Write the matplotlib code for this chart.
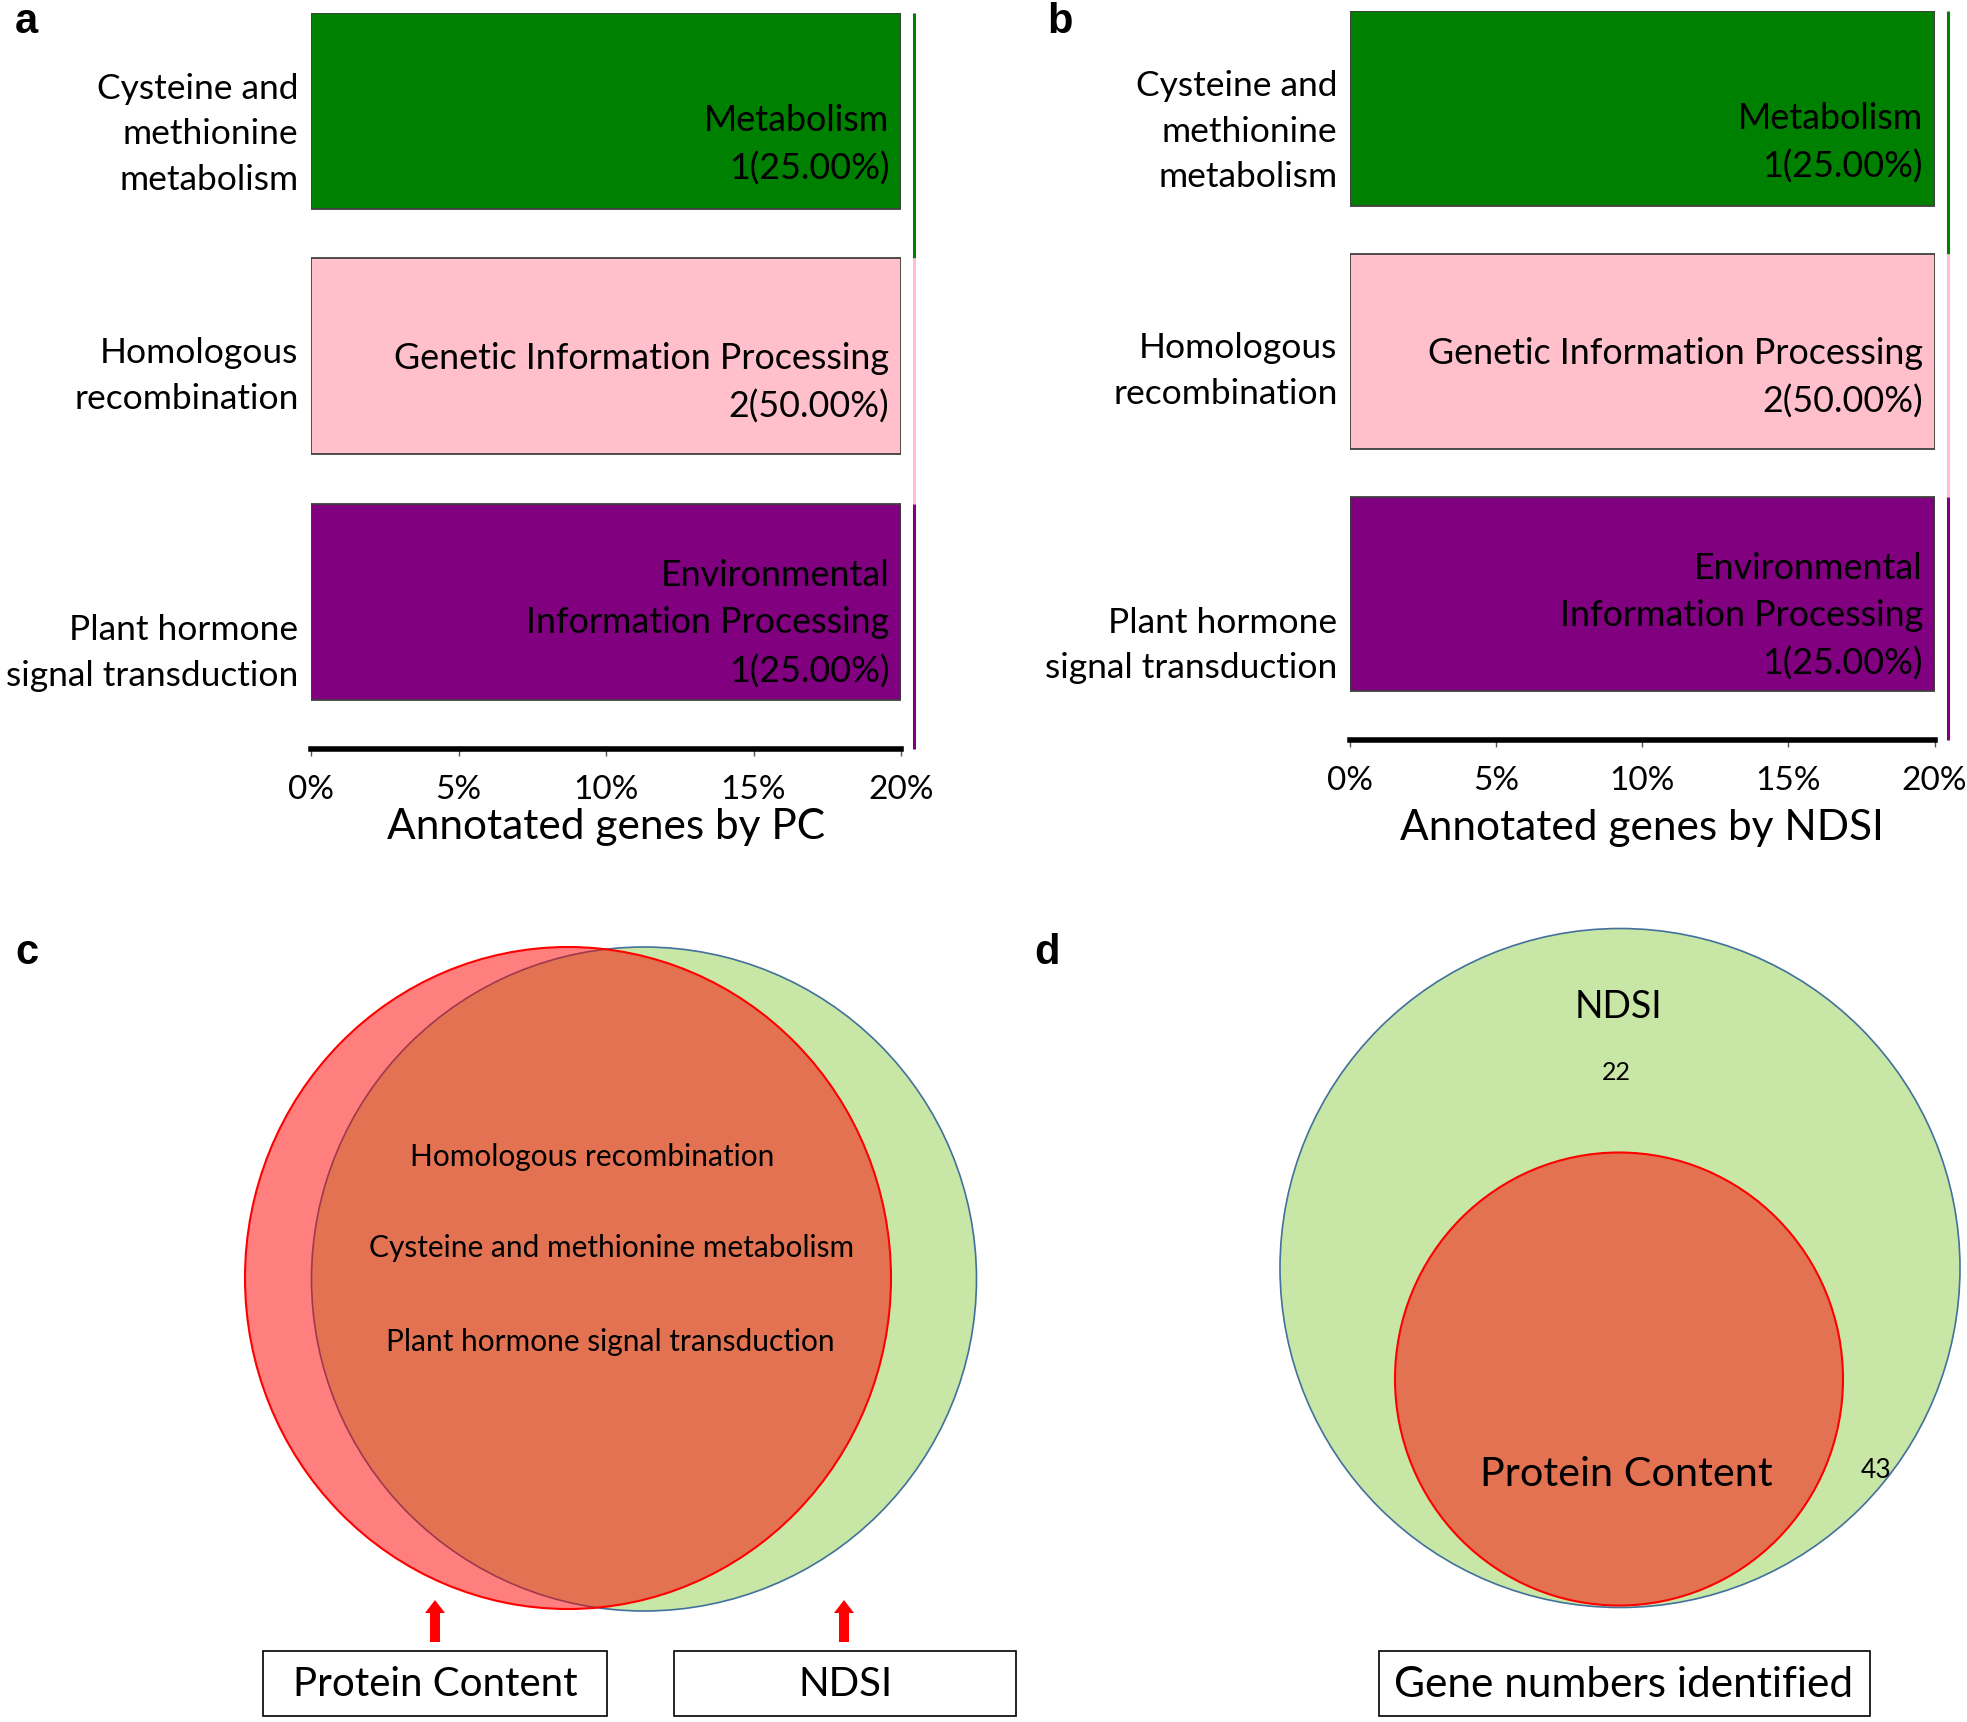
import numpy as np
import matplotlib
matplotlib.use("Agg")
import matplotlib.pyplot as plt
from matplotlib.patches import Ellipse, Rectangle, FancyArrow

plt.rcParams['font.family'] = ['Lato', 'DejaVu Sans']

# KEGG pathways (top to bottom)
pathways = ["Cysteine and\nmethionine\nmetabolism",
            "Homologous\nrecombination",
            "Plant hormone\nsignal transduction"]
classes = ["Metabolism",
           "Genetic Information Processing",
           "Environmental\nInformation Processing"]
pc_counts = [1, 2, 1]
pc_pct = [25.0, 50.0, 25.0]
ndsi_counts = [1, 2, 1]
ndsi_pct = [25.0, 50.0, 25.0]
bar_colors = ["#008000", "#FFC0CB", "#800080"]
x_ticks = [0, 5, 10, 15, 20]
x_ticklabels = ["0%", "5%", "10%", "15%", "20%"]

# venn panels
shared_pathways = ["Homologous recombination",
                   "Cysteine and methionine metabolism",
                   "Plant hormone signal transduction"]
ndsi_only = 22
pc_genes = 43

W, H = 1967, 1722
fig = plt.figure(figsize=(W / 100, H / 100), dpi=100)

# texts sit a bit below the bar centres in the original
LABEL_DROP = [0.095, 0.08, 0.21]
TEXT_DROP = [0.14, 0.11, 0.09]


def bar_panel(rect, counts, pct, xlabel, labelpad):
    ax = fig.add_axes(rect)
    xmax = x_ticks[-1]
    ypos = np.arange(len(pathways))[::-1]
    widths = np.minimum(pct, xmax)
    ax.barh(ypos, widths, height=0.8, color=bar_colors,
            edgecolor="#404040", linewidth=1.3)
    for y, w, c, n, p, d in zip(ypos, widths, classes, counts, pct, TEXT_DROP):
        ax.text(w - 0.4, y - d, f"{c}\n{n}({p:.2f}%)", ha="right",
                va="center", fontsize=25.8, linespacing=1.52)
    for y, lab, d in zip(ypos, pathways, LABEL_DROP):
        ax.annotate(lab, xy=(0, y - d), xycoords=ax.get_yaxis_transform(),
                    xytext=(-9, 0), textcoords="offset points",
                    ha="right", va="center", fontsize=25.5, linespacing=1.52)
    # category colour strip on the right
    tops = ypos + 0.4
    bottoms = np.append(tops[1:], -0.6)
    for t, b, col in zip(tops, bottoms, bar_colors):
        ax.plot([xmax + 0.45, xmax + 0.45], [b, t], color=col, lw=2.2,
                clip_on=False, solid_capstyle="butt")
    ax.set_xlim(0, xmax)
    ax.set_ylim(-0.6, 2.4)
    ax.set_yticks([])
    ax.set_xticks(x_ticks)
    ax.set_xticklabels(x_ticklabels, fontsize=24)
    ax.tick_params(axis="x", length=5, width=1, color="#555555", pad=14)
    for s in ["top", "right", "left"]:
        ax.spines[s].set_visible(False)
    ax.spines["bottom"].set_linewidth(4)
    ax.set_xlabel(xlabel, fontsize=30.5, labelpad=labelpad)
    return ax


bar_panel([311 / W, 1 - 749 / H, 590 / W, 736.5 / H], pc_counts, pc_pct,
          "Annotated genes by PC", 2)
bar_panel([1350 / W, 1 - 740 / H, 584.5 / W, 728.7 / H], ndsi_counts, ndsi_pct,
          "Annotated genes by NDSI", 9)

# overlay in pixel coordinates for the diagrams
ov = fig.add_axes([0, 0, 1, 1])
ov.set_xlim(0, W)
ov.set_ylim(H, 0)
ov.axis("off")

green = "#C8E6A5"
blue_edge = "#41719C"
red_fill = (1, 0, 0, 0.5)

# panel c
ov.add_patch(Ellipse((644, 1279), 665, 664, facecolor=green,
                     edgecolor=blue_edge, lw=1.2))
ov.add_patch(Ellipse((568, 1278), 646, 662, facecolor=red_fill,
                     edgecolor="red", lw=1.5))
for txt, (x, y) in zip(shared_pathways, [(592, 1157), (612, 1248), (610, 1342)]):
    ov.text(x, y, txt, ha="center", va="center", fontsize=21.5)

for x in [435, 844]:
    ov.add_patch(FancyArrow(x, 1642, 0, -42, width=10, head_width=20,
                            head_length=13, length_includes_head=True,
                            color="red", lw=0))

for (x0, x1), txt in zip([(263, 607), (674, 1016)], ["Protein Content", "NDSI"]):
    ov.add_patch(Rectangle((x0, 1651), x1 - x0, 65, facecolor="white",
                           edgecolor="black", lw=1.2))
    ov.text((x0 + x1) / 2, 1685, txt, ha="center", va="center", fontsize=29)

# panel d
ov.add_patch(Ellipse((1620, 1268), 680, 679, facecolor=green,
                     edgecolor=blue_edge, lw=1.2))
ov.add_patch(Ellipse((1619, 1379), 448, 453, facecolor=red_fill,
                     edgecolor="red", lw=1.5))
ov.text(1618, 1007, "NDSI", ha="center", va="center", fontsize=27)
ov.text(1616, 1073, str(ndsi_only), ha="center", va="center", fontsize=18)
ov.text(1626, 1475, "Protein Content", ha="center", va="center", fontsize=29.8)
ov.text(1876, 1470, str(pc_genes), ha="center", va="center", fontsize=19)
ov.add_patch(Rectangle((1379, 1651), 491, 65, facecolor="white",
                       edgecolor="black", lw=1.2))
ov.text(1624, 1685, "Gene numbers identified", ha="center", va="center",
        fontsize=30.5)

# panel letters
for lab, x, y in [("a", 15, 22), ("b", 1047, 22), ("c", 15, 953), ("d", 1034, 953)]:
    fig.text(x / W, 1 - y / H, lab, ha="left", va="center", fontsize=30,
             fontweight="bold", family=["Liberation Sans", "DejaVu Sans"])

fig.savefig("out.png", dpi=100)
